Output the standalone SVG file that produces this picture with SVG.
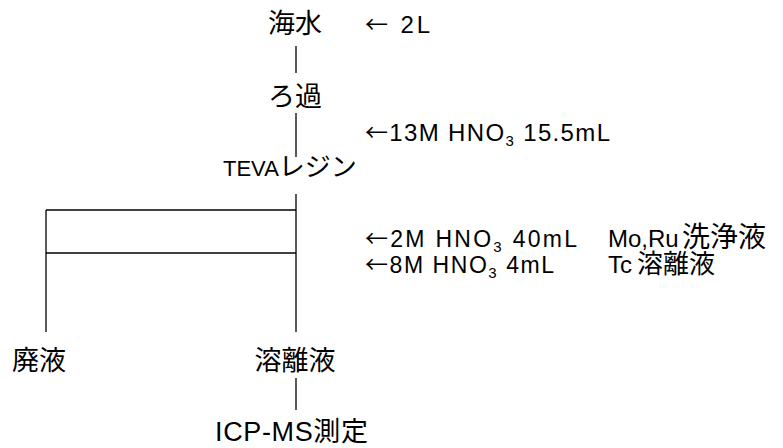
<svg xmlns="http://www.w3.org/2000/svg" width="783" height="448" viewBox="0 0 783 448">
<style>
text{font-family:"Liberation Sans","Noto Sans CJK JP",sans-serif;font-size:24px;fill:#000}
.j{font-family:"Noto Sans CJK JP",sans-serif;font-size:27px}
.k{font-family:"Noto Sans CJK JP",sans-serif;font-size:26px}
.a{font-family:"Noto Sans CJK JP",sans-serif;font-size:23px}
.c{text-anchor:middle}
.s{font-size:15px}
.r{font-size:23px}
line{stroke:#000;stroke-width:1.3}
</style>
<rect width="783" height="448" fill="#fff"/>
<g id="connectors">
<line x1="296" y1="46" x2="296" y2="73"/>
<line x1="296" y1="113" x2="296" y2="157"/>
<line x1="296" y1="194" x2="296" y2="332"/>
<line x1="46" y1="210" x2="296" y2="210"/>
<line x1="46" y1="253" x2="296" y2="253"/>
<line x1="46" y1="210" x2="46" y2="332"/>
<line x1="296" y1="378" x2="296" y2="410"/>
</g>
<g id="seawater"><text class="j c" x="295" y="33">海水</text></g>
<g id="label-2L"><text x="365" y="33" textLength="65" lengthAdjust="spacing"><tspan class="a">←</tspan> 2L</text></g>
<g id="filtration"><text class="j c" x="295" y="106">ろ過</text></g>
<g id="label-13M"><text x="365" y="141" textLength="245" lengthAdjust="spacing"><tspan class="a">←</tspan>13M HNO<tspan class="s" dy="5">3</tspan><tspan dy="-5"> 15.5mL</tspan></text></g>
<g id="teva"><text x="223" y="176" style="font-size:22px">TEVA<tspan class="k">レジン</tspan></text></g>
<g id="label-2M"><text class="r" x="365" y="247" textLength="212" lengthAdjust="spacing"><tspan class="a">←</tspan>2M HNO<tspan class="s" dy="5">3</tspan><tspan dy="-5"> 40mL</tspan></text></g>
<g id="label-MoRu"><text x="608" y="247">Mo,Ru</text><text x="682" y="247" style="font-family:'Noto Sans CJK JP',sans-serif;font-size:28px">洗浄液</text></g>
<g id="label-8M"><text class="r" x="365" y="273" textLength="189" lengthAdjust="spacing"><tspan class="a">←</tspan>8M HNO<tspan class="s" dy="5">3</tspan><tspan dy="-5"> 4mL</tspan></text></g>
<g id="label-Tc"><text x="608" y="273">Tc</text><text class="k" x="637" y="273">溶離液</text></g>
<g id="waste"><text class="j" x="12" y="370">廃液</text></g>
<g id="eluate"><text class="j c" x="295" y="370">溶離液</text></g>
<g id="icpms"><text x="215" y="441" style="font-size:27px" textLength="153" lengthAdjust="spacing">ICP-MS<tspan class="j">測定</tspan></text></g>
</svg>
